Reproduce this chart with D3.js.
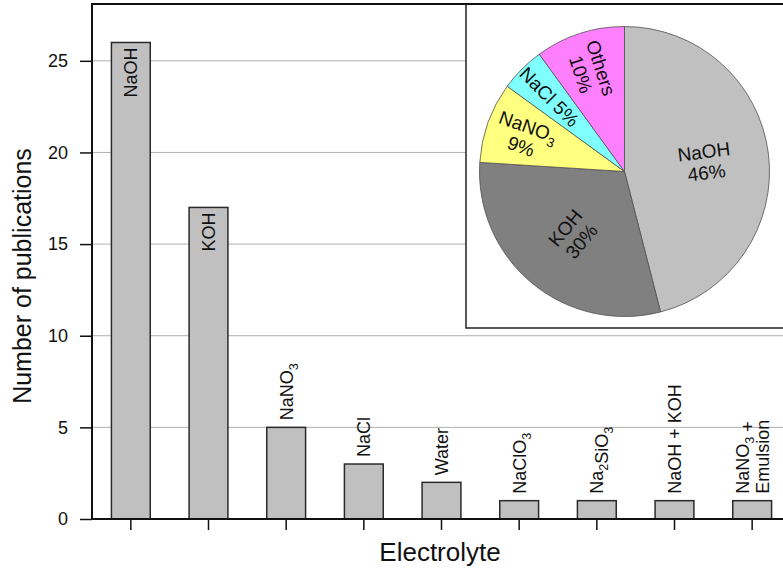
<!DOCTYPE html>
<html>
<head>
<meta charset="utf-8">
<script src="https://cdn.jsdelivr.net/npm/d3@7/dist/d3.min.js"></script>
<style>
  html, body { margin: 0; padding: 0; background: #fff; }
  svg { display: block; font-family: "Liberation Sans", Arial, sans-serif; }
</style>
</head>
<body>
<svg id="chart" width="783" height="569"></svg>
<script>
// ---- data ----
const categories = ["NaOH", "KOH", "NaNO_3", "NaCl", "Water", "NaClO_3", "Na_2SiO_3", "NaOH + KOH", "NaNO_3 +|Emulsion"];
const publications = [26, 17, 5, 3, 2, 1, 1, 1, 1];
const yTicks = [0, 5, 10, 15, 20, 25];
const pieLabels = ["NaOH", "KOH", "NaNO_3", "NaCl", "Others"];
const pieShares = [46, 30, 9, 5, 10];
const pieColors = ["#c0c0c0", "#808080", "#ffff80", "#80ffff", "#ff80ff"];

// ---- layout ----
const svg = d3.select("#chart");
const plot = { left: 92, right: 791, top: 4, bottom: 519 };

const x = d3.scaleBand().domain(categories).range([plot.left, plot.right])
  .paddingInner(0.5).paddingOuter(0.25);
const y = d3.scaleLinear().domain([0, 28.1]).range([plot.bottom, plot.top]);

// write text with _n subscripts into a text/tspan selection
function richText(sel, str, size) {
  const parts = str.split(/(_\d)/);
  parts.forEach(p => {
    if (!p) return;
    if (p[0] === "_") {
      sel.append("tspan").attr("dy", size * 0.28).attr("font-size", size * 0.7).text(p.slice(1));
      sel.append("tspan").attr("dy", -size * 0.28).text("");
    } else {
      sel.append("tspan").text(p);
    }
  });
}

// grid lines
svg.append("g").selectAll("line").data(yTicks.filter(d => d > 0)).join("line")
  .attr("x1", plot.left).attr("x2", plot.right)
  .attr("y1", d => y(d)).attr("y2", d => y(d))
  .attr("stroke", "#b0b0b0").attr("stroke-width", 1);

// bars
svg.append("g").selectAll("rect").data(categories).join("rect")
  .attr("x", d => x(d)).attr("width", x.bandwidth())
  .attr("y", (d, i) => y(publications[i]))
  .attr("height", (d, i) => y(0) - y(publications[i]))
  .attr("fill", "#c0c0c0").attr("stroke", "#2a2a2a").attr("stroke-width", 1.5);

// bar labels
const barFont = 18;
categories.forEach((c, i) => {
  const cx = x(c) + x.bandwidth() / 2;
  const top = y(publications[i]);
  const lines = c.split("|");
  const inside = publications[i] > 10;
  lines.forEach((ln, k) => {
    const off = (k - (lines.length - 1) / 2) * 20;
    const t = svg.append("text")
      .attr("font-size", barFont).attr("fill", "#111")
      .attr("text-anchor", inside ? "end" : "start")
      .attr("transform", `translate(${cx + 6.5 + off},${inside ? top + 5 : top - 7}) rotate(-90)`);
    richText(t, ln, barFont);
  });
});

// pie inset
const inset = { x: 466, y: plot.top, w: 345, h: 324 };
svg.append("rect").attr("x", inset.x).attr("y", inset.y).attr("width", inset.w).attr("height", inset.h)
  .attr("fill", "#fff").attr("stroke", "#222").attr("stroke-width", 1.5);

const pc = { x: inset.x + 158.5, y: inset.y + 167.5 };
const R = 145;
const pie = d3.pie().sort(null).value(d => d)(pieShares);
const arc = d3.arc().innerRadius(0).outerRadius(R);
const pg = svg.append("g").attr("transform", `translate(${pc.x},${pc.y})`);
pg.selectAll("path").data(pie).join("path")
  .attr("d", arc).attr("fill", (d, i) => pieColors[i])
  .attr("stroke", "#505050").attr("stroke-width", 0.8);

const pieFont = 19;
pie.forEach((d, i) => {
  const a = (d.startAngle + d.endAngle) / 2;
  const r = R * (d.value >= 20 ? 0.56 : 0.73);
  const lx = Math.sin(a) * r, ly = -Math.cos(a) * r;
  let rot = Math.atan2(Math.cos(a), -Math.sin(a)) * 180 / Math.PI;
  if (rot > 90) rot -= 180;
  if (rot < -90) rot += 180;
  const g = pg.append("g").attr("transform", `translate(${lx},${ly}) rotate(${rot})`);
  const t1 = g.append("text").attr("text-anchor", "middle").attr("font-size", pieFont)
    .attr("fill", "#111").attr("y", -3);
  if (pieLabels[i] === "NaCl") {
    richText(t1, pieLabels[i] + " " + d.value + "%", pieFont);
    t1.attr("y", 7);
  } else {
    richText(t1, pieLabels[i], pieFont);
    g.append("text").attr("text-anchor", "middle").attr("font-size", pieFont)
      .attr("fill", "#111").attr("y", 18).text(d.value + "%");
  }
});

// axes
const yAxis = svg.append("g").attr("transform", `translate(${plot.left},0)`)
  .call(d3.axisLeft(y).tickValues(yTicks).tickSize(12).tickPadding(12).tickFormat(d3.format("d")));
yAxis.select(".domain").remove();
yAxis.selectAll(".tick line").attr("stroke", "#111").attr("stroke-width", 1.5);
yAxis.selectAll("text").attr("font-size", 18).attr("fill", "#111").attr("font-family", "'Liberation Sans', Arial, sans-serif");

const xAxis = svg.append("g").attr("transform", `translate(0,${plot.bottom})`)
  .call(d3.axisBottom(x).tickSize(11).tickFormat(""));
xAxis.select(".domain").remove();
xAxis.selectAll(".tick line").attr("stroke", "#111").attr("stroke-width", 1.5);

// frame lines
svg.append("line").attr("x1", plot.left).attr("x2", plot.left).attr("y1", plot.top).attr("y2", plot.bottom + 1)
  .attr("stroke", "#111").attr("stroke-width", 2);
svg.append("line").attr("x1", plot.left - 1).attr("x2", plot.right).attr("y1", plot.bottom).attr("y2", plot.bottom)
  .attr("stroke", "#111").attr("stroke-width", 2);
svg.append("line").attr("x1", plot.left - 1).attr("x2", plot.right).attr("y1", plot.top).attr("y2", plot.top)
  .attr("stroke", "#111").attr("stroke-width", 2);

// axis titles
svg.append("text").attr("x", 440).attr("y", 561)
  .attr("text-anchor", "middle").attr("font-size", 26).attr("fill", "#111").text("Electrolyte");
svg.append("text").attr("transform", "translate(31,276) rotate(-90)")
  .attr("text-anchor", "middle").attr("font-size", 25).attr("fill", "#111").text("Number of publications");
</script>
</body>
</html>
